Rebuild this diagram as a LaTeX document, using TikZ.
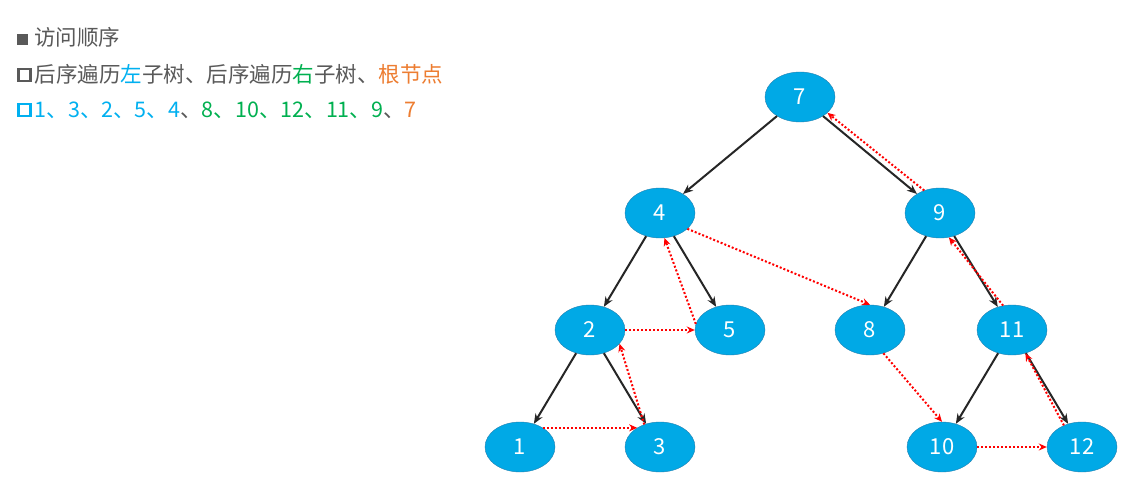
\documentclass[tikz,border=0pt]{standalone}
\usepackage{fontspec}
\setmainfont{Noto Sans CJK SC}
\usetikzlibrary{arrows.meta,shapes.geometric}
\definecolor{tgray}{HTML}{595959}
\definecolor{tblue}{HTML}{00B0F0}
\definecolor{tgreen}{HTML}{00B050}
\definecolor{torange}{HTML}{ED7D31}
\definecolor{nfill}{HTML}{00A9E6}
\definecolor{nborder}{HTML}{1F7FB0}
\newcommand{\mysq}[1]{\tikz[baseline=-1pt]\draw[#1,line width=2.5pt] (0,0) rectangle (12pt,12pt);}
\newcommand{\myfsq}{\tikz[baseline=0pt]\fill[tgray] (0,0) rectangle (11pt,11pt);}
\tikzset{
  tn/.style={ellipse,draw=nborder,fill=nfill,minimum width=70pt,minimum height=50pt,inner sep=0pt,text=white,font=\fontsize{22}{22}\selectfont},
  edge/.style={-{Stealth[length=10pt,width=8pt]},line width=2pt,black!85},
  trav/.style={-{Stealth[length=8pt,width=7pt]},red,dotted,line width=2pt},
  txt/.style={anchor=west,font=\fontsize{21.5}{22}\selectfont,text=tgray,inner sep=0pt}
}
\begin{document}
\begin{tikzpicture}[x=1pt,y=-1pt]
\useasboundingbox[fill=white] (0,0) rectangle (1136,503);
\node[tn] (n7) at (800,97) {7};
\node[tn] (n4) at (660,213) {4};
\node[tn] (n9) at (940,213) {9};
\node[tn] (n2) at (590,330) {2};
\node[tn] (n5) at (730,330) {5};
\node[tn] (n8) at (870,330) {8};
\node[tn] (n11) at (1012,330) {11};
\node[tn] (n1) at (520,447) {1};
\node[tn] (n3) at (660,447) {3};
\node[tn] (n10) at (942,447) {10};
\node[tn] (n12) at (1082,447) {12};
\draw[edge] (n7) -- (n4);
\draw[edge] (n7) -- (n9);
\draw[edge] (n4) -- (n2);
\draw[edge] (n4) -- (n5);
\draw[edge] (n9) -- (n8);
\draw[edge] (n9) -- (n11);
\draw[edge] (n2) -- (n1);
\draw[edge] (n2) -- (n3);
\draw[edge] (n11) -- (n10);
\draw[edge] (n11) -- (n12);
\draw[trav] (n1.40) -- (n3.140);
\draw[trav] (n3.125) -- (n2.-25);
\draw[trav] (n2.east) -- (n5.west);
\draw[trav] (n5.170) -- (n4.-80);
\draw[trav] (n4.-30) -- (n8.north);
\draw[trav] (n8.-60) -- (n10.north);
\draw[trav] (n10.east) -- (n12.west);
\draw[trav] (n12.130) -- (n11.-60);
\draw[trav] (n11.110) -- (n9.-70);
\draw[trav] (n9.125) -- (n7.-30);
\node[txt] (l1) at (17,37) {\myfsq\hspace{6pt}访问顺序};
\node[txt] (l2) at (17,74) {\mysq{tgray}\hspace{3pt}后序遍历\textcolor{tblue}{左}子树、后序遍历\textcolor{tgreen}{右}子树、\textcolor{torange}{根节点}};
\node[txt] (l3) at (17,110) {\mysq{tblue}\hspace{3pt}\textcolor{tblue}{1、3、2、5、4}、\textcolor{tgreen}{8、10、12、11、9}、\textcolor{torange}{7}};
\end{tikzpicture}
\end{document}
